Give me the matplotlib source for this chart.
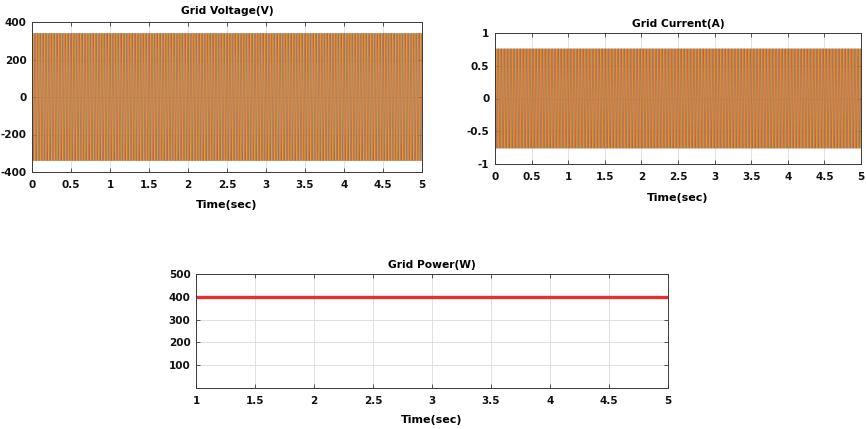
import numpy as np
import matplotlib
matplotlib.use("Agg")
import matplotlib.pyplot as plt

plt.rcParams['font.family'] = ['DejaVu Sans']
plt.rcParams['font.weight'] = 'bold'
plt.rcParams['axes.unicode_minus'] = False

# ---- data ----
freq_hz = 50                      # grid frequency
n_cycles = 250                    # 5 s of 50 Hz
# one cycle of phase-A grid voltage, 12 samples (V)
voltage_cycle = [0, 170, 294, 340, 294, 170, 0, -170, -294, -340, -294, -170]
# one cycle of phase-A grid current, 12 samples (A)
current_cycle = [0, 0.38, 0.66, 0.76, 0.66, 0.38, 0, -0.38, -0.66, -0.76, -0.66, -0.38]
phase_shift_samples = [0, 4, 8]   # 0, 120, 240 degrees
phase_colors = ['#0072BD', '#EDB120', '#D95319']

power_time = [1.0, 5.0]
power_values = [400, 400]

time_ticks = [0, 0.5, 1, 1.5, 2, 2.5, 3, 3.5, 4, 4.5, 5]
time_tick_labels = ['0', '0.5', '1', '1.5', '2', '2.5', '3', '3.5', '4', '4.5', '5']
volt_ticks = [-400, -200, 0, 200, 400]
curr_ticks = [-1, -0.5, 0, 0.5, 1]
curr_tick_labels = ['-1', '-0.5', '0', '0.5', '1']
power_xticks = [1, 1.5, 2, 2.5, 3, 3.5, 4, 4.5, 5]
power_xtick_labels = ['1', '1.5', '2', '2.5', '3', '3.5', '4', '4.5', '5']
power_yticks = [100, 200, 300, 400, 500]

W, H = 866, 429
fig = plt.figure(figsize=(W / 100, H / 100), dpi=100)


def px_axes(l, t, r, b):
    return fig.add_axes([l / W, 1 - b / H, (r - l) / W, (b - t) / H])


def style(ax):
    ax.grid(True, color='#dcdcdc', linewidth=0.6)
    ax.set_axisbelow(True)
    for s in ax.spines.values():
        s.set_color('#3a3a3a')
        s.set_linewidth(0.7)
    ax.tick_params(direction='in', top=True, right=True, length=3,
                   width=0.6, labelsize=7.5, pad=4, colors='#3a3a3a')
    ax.tick_params(axis='x', pad=6)
    for lab in ax.get_xticklabels() + ax.get_yticklabels():
        lab.set_fontweight('bold')
        lab.set_color('#111111')


def waveform(ax, cycle):
    n = len(cycle)
    t = np.arange(n * n_cycles + 1) / (n * freq_hz)
    base = np.array(cycle, dtype=float)
    for shift, c in zip(phase_shift_samples, phase_colors):
        one = np.roll(base, -shift)
        y = np.concatenate([np.tile(one, n_cycles), one[:1]])
        ax.plot(t, y, color=c, linewidth=0.35, alpha=0.75)


TITLE_FS = 7.7
XLAB_FS = 8

# Grid Voltage
ax1 = px_axes(32, 22, 422, 172)
waveform(ax1, voltage_cycle)
ax1.set_xlim(0, 5)
ax1.set_ylim(-400, 400)
ax1.set_xticks(time_ticks, time_tick_labels)
ax1.set_yticks(volt_ticks)
style(ax1)
ax1.set_title('Grid Voltage(V)', fontsize=TITLE_FS, fontweight='bold', pad=6)
ax1.set_xlabel('Time(sec)', fontsize=XLAB_FS, fontweight='bold', labelpad=7)

# Grid Current
ax2 = px_axes(495, 33, 861, 164)
waveform(ax2, current_cycle)
ax2.set_xlim(0, 5)
ax2.set_ylim(-1, 1)
ax2.set_xticks(time_ticks, time_tick_labels)
ax2.set_yticks(curr_ticks, curr_tick_labels)
style(ax2)
ax2.set_title('Grid Current(A)', fontsize=TITLE_FS, fontweight='bold', pad=4)
ax2.set_xlabel('Time(sec)', fontsize=XLAB_FS, fontweight='bold', labelpad=8)

# Grid Power
ax3 = px_axes(196, 274, 668, 388)
ax3.plot(power_time, power_values, color='#E53030', linewidth=2.4)
ax3.set_xlim(1, 5)
ax3.set_ylim(0, 500)
ax3.set_xticks(power_xticks, power_xtick_labels)
ax3.set_yticks(power_yticks)
style(ax3)
ax3.set_title('Grid Power(W)', fontsize=TITLE_FS, fontweight='bold', pad=4)
ax3.set_xlabel('Time(sec)', fontsize=XLAB_FS, fontweight='bold', labelpad=6)

fig.savefig('out.png', dpi=100, facecolor='white')
